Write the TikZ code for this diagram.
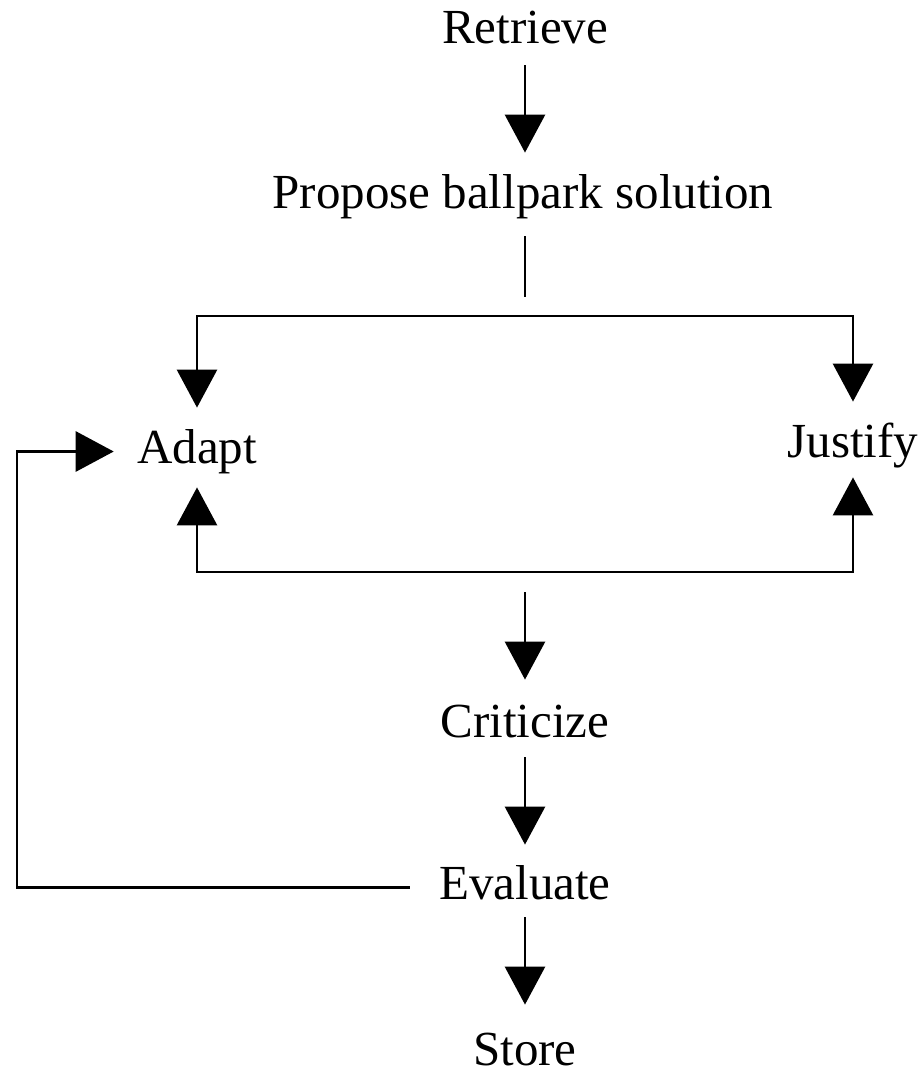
\documentclass[tikz,border=0pt]{standalone}
\usepackage{fontspec}
\setmainfont{Liberation Serif}
\usepackage{tikz}
\usetikzlibrary{arrows.meta, positioning, calc}

\begin{document}
\begin{tikzpicture}[x=0.5pt, y=-0.5pt,
    stage/.style={inner sep=0pt, anchor=base, text height=17pt, text depth=5.5pt,
      font=\fontsize{24.5}{29}\selectfont},
    link/.style={line width=1.4pt},
    arr/.style={link, -{Triangle[width=20pt, length=19pt]}}]
  \useasboundingbox (0,0) rectangle (922,1073);

  % stages
  \node[stage] (retrieve)  at (525,43)   {Retrieve};
  \node[stage] (propose)   at (523,208)  {Propose ballpark solution};
  \node[stage] (adapt)     at (197,463)  {Adapt};
  \node[stage] (justify)   at (853,457)  {Justify};
  \node[stage] (criticize) at (525,737)  {Criticize};
  \node[stage] (evaluate)  at (525,899)  {Evaluate};
  \node[stage] (store)     at (525,1065) {Store};

  % free ends
  \coordinate (split)  at (525,297);
  \coordinate (topbar) at (525,316);
  \coordinate (botbar) at (525,572);
  \coordinate (merge)  at (525,592);
  \coordinate (edge)   at (17,0);

  % main chain
  \draw[arr, shorten <=5.5pt, shorten >=10.5pt] (retrieve) -- (retrieve |- propose.north);
  \draw[link, shorten <=8.5pt] (propose.south -| split) -- (split);
  \draw[arr, shorten >=10.5pt] (topbar) -| (adapt);
  \draw[arr, shorten >=10.5pt] (topbar) -| (justify);
  \draw[arr, shorten >=6.5pt] (botbar) -| (adapt);
  \draw[arr, shorten >=4.5pt] (botbar) -| (justify);
  \draw[arr, shorten >=11.5pt] (merge) -- (criticize);
  \draw[arr, shorten <=4.5pt, shorten >=10pt] (criticize) -- (evaluate);
  \draw[arr, shorten <=3.5pt, shorten >=13pt] (evaluate) -- (store);

  % feedback loop
  \draw[arr, shorten <=14.5pt, shorten >=11.5pt] (evaluate.west)
    -- (evaluate.west -| edge) |- (adapt.west);
\end{tikzpicture}
\end{document}
